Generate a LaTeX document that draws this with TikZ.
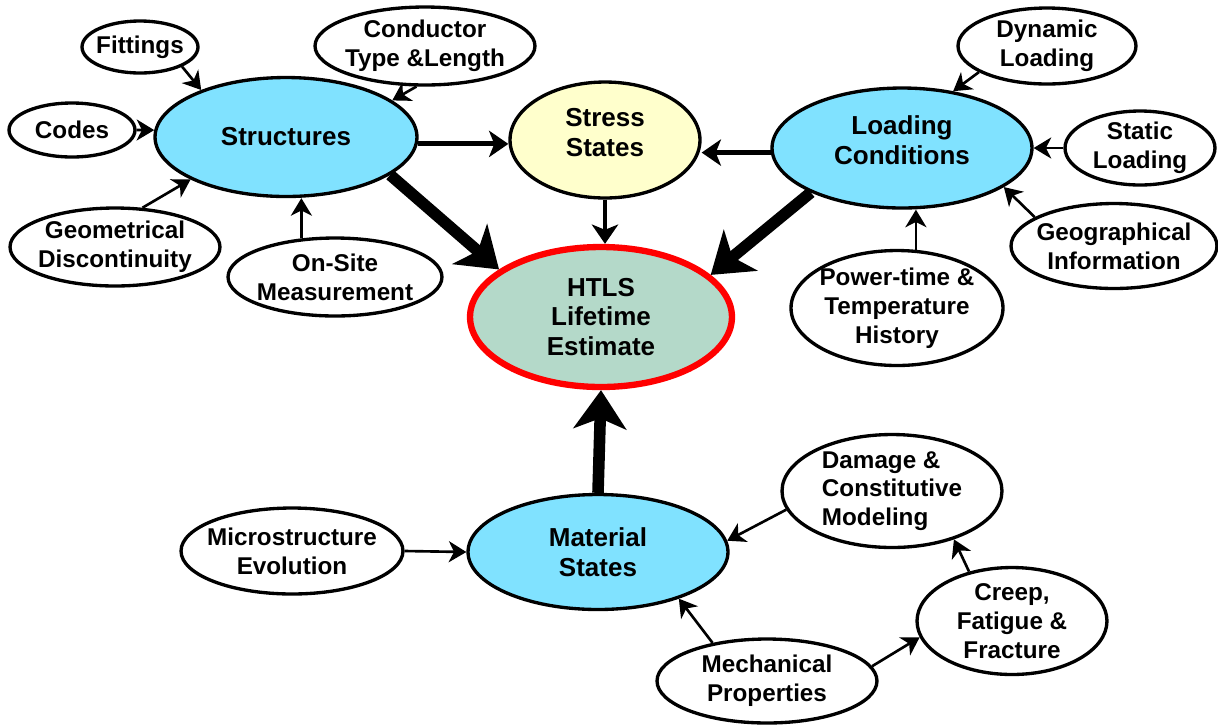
\documentclass[tikz,border=0pt]{standalone}
\usepackage{fontspec}
\setmainfont{Liberation Sans}
\usepackage{tikz}
\usetikzlibrary{shapes.geometric,arrows.meta}

\definecolor{hubblue}{RGB}{128,226,255}
\definecolor{stressyellow}{RGB}{255,255,204}
\definecolor{htlsgreen}{RGB}{180,217,201}
\newcommand{\hubfont}{\fontsize{14.8}{17}\selectfont\bfseries}
\newcommand{\leaffont}{\fontsize{13.8}{16.4}\selectfont\bfseries}

\tikzset{
  bubble/.style={draw, ellipse, line width=1.9pt, inner sep=-3cm, align=center, font=\leaffont, fill=white},
  hub/.style={bubble, fill=hubblue, font=\hubfont},
  lifted/.style={text depth=9pt},
  feed/.style={-{Stealth[length=10pt,width=12pt,inset=3pt]}, line width=1.5pt},
  flow/.style={-{Stealth[length=11pt,width=15pt,inset=3pt]}, line width=2.8pt},
  bigflow/.style={-{Stealth[length=22pt,width=30pt,inset=6pt]}, line width=6.6pt}
}

\begin{document}
\begin{tikzpicture}[x=0.02cm,y=-0.02cm]
\useasboundingbox (0,0) rectangle (1218,725);
% centre
\node[bubble, draw=red, line width=3.6pt, fill=htlsgreen, font=\hubfont, minimum width=5.24cm, minimum height=2.8cm] (htls) at (601,317) {HTLS\\Lifetime\\Estimate};
\node[hub, minimum width=5.24cm, minimum height=2.38cm] (struct) at (286,137) {Structures};
\node[bubble, lifted, fill=stressyellow, font=\hubfont, minimum width=3.8cm, minimum height=2.32cm] (stress) at (605,140) {Stress\\States};
\node[hub, lifted, minimum width=5.2cm, minimum height=2.4cm] (load) at (902,148) {Loading\\Conditions};
\node[hub, minimum width=5.2cm, minimum height=2.3cm] (mat) at (598,552) {Material\\States};
% structures side
\node[bubble, minimum width=2.32cm, minimum height=1.04cm] (fit) at (140,47) {Fittings};
\node[bubble, minimum width=4.4cm, minimum height=1.56cm] (cond) at (425,46) {Conductor\\Type \&Length};
\node[bubble, minimum width=2.52cm, minimum height=1.08cm] (codes) at (72,130) {Codes};
\node[bubble, minimum width=4.2cm, minimum height=1.56cm] (geo) at (115,247) {Geometrical\\Discontinuity};
\node[bubble, minimum width=4.28cm, minimum height=1.56cm] (onsite) at (335,277) {On-Site\\Measurement};
% loading side
\node[bubble, minimum width=3.56cm, minimum height=1.52cm] (dyn) at (1047,46) {Dynamic\\Loading};
\node[bubble, minimum width=3.0cm, minimum height=1.48cm] (stat) at (1140,148) {Static\\Loading};
\node[bubble, minimum width=4.12cm, minimum height=1.7cm] (geog) at (1114,246) {Geographical\\Information};
\node[bubble, minimum width=4.24cm, minimum height=2.3cm] (power) at (897,308) {Power-time \&\\Temperature\\History};
% material side
\node[bubble, minimum width=4.44cm, minimum height=1.72cm] (micro) at (292,551) {Microstructure\\Evolution};
\node[bubble, align=left, minimum width=4.4cm, minimum height=2.26cm] (dam) at (892,491) {Damage \&\\Constitutive\\Modeling};
\node[bubble, minimum width=3.8cm, minimum height=2.14cm] (creep) at (1012,621) {Creep,\\Fatigue \&\\Fracture};
\node[bubble, minimum width=4.4cm, minimum height=1.68cm] (mech) at (767,681) {Mechanical\\Properties};

\draw[feed] (fit.-25) -- (struct.151);
\draw[feed] (cond.-102) -- (struct.19);
\draw[feed] (codes.east) -- (struct.177);
\draw[feed] (geo.55) -- (struct.204);
\draw[feed] (onsite.131) -- (onsite.131 |- struct.south);
\draw[flow] (struct.-3) -- (struct.-3 -| stress.west);
\draw[flow] (load.182) -- (load.182 -| stress.east);
\draw[flow] (stress.south) -- (stress.south |- htls.north);
\draw[bigflow] (struct.-20) -- (htls.155);
\draw[bigflow] (load.206) -- (htls.21);
\draw[bigflow] (mat.north) -- (htls.south);
\draw[feed] (dyn.201) -- (load.48);
\draw[feed] (stat.west) -- (load.east);
\draw[feed] (geog.160) -- (load.-21);
\draw[feed] (power.72) -- (power.72 |- load.south);
\draw[feed] (micro.east) -- (mat.west);
\draw[feed] (dam.190) -- (mat.5);
\draw[feed] (mech.145) -- (mat.-30);
\draw[feed] (mech.8) -- (creep.190);
\draw[feed] (creep.131) -- (dam.-38);
\end{tikzpicture}
\end{document}
